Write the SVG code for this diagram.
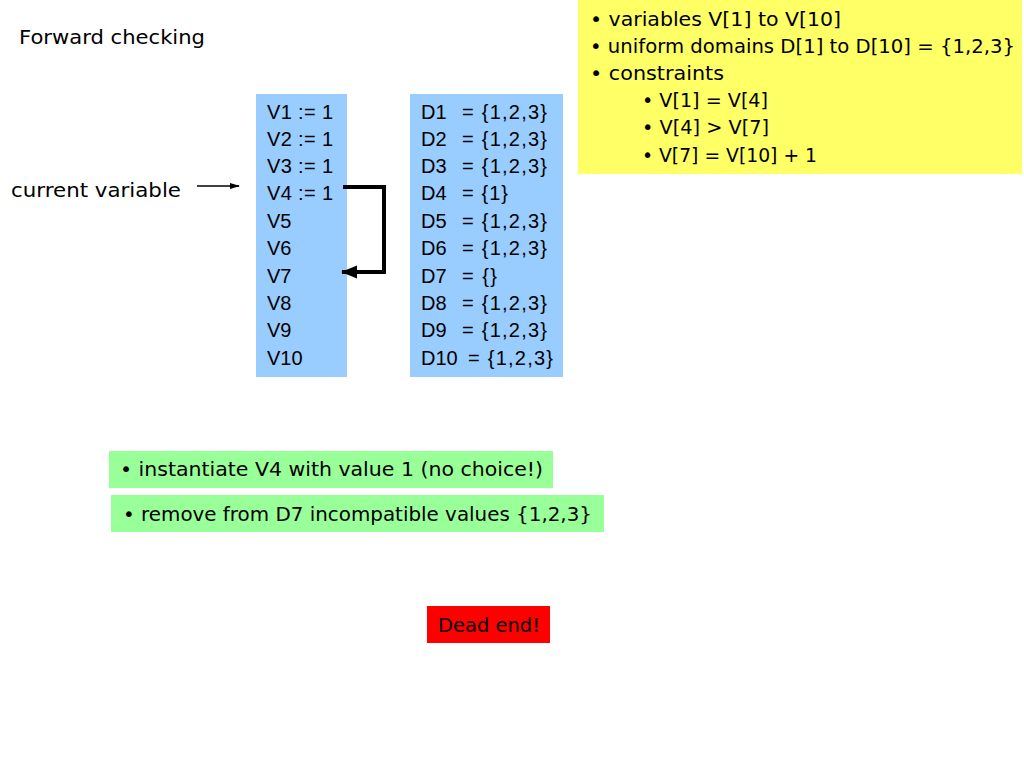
<svg xmlns="http://www.w3.org/2000/svg" width="1024" height="768" viewBox="0 0 1024 768">
<style>
text{font-family:"DejaVu Sans","Liberation Sans",sans-serif;font-size:19px;fill:#000}
text.col{font-family:"Liberation Sans","DejaVu Sans",sans-serif;font-size:20px}
.blue{fill:#99ccff}
.green{fill:#99ff99}
</style>
<defs>
<marker id="ah" markerWidth="10" markerHeight="8" refX="9" refY="4" orient="auto" markerUnits="userSpaceOnUse">
<path d="M0,1 L10,4 L0,7 Z" fill="#000"/>
</marker>
<marker id="ahb" markerWidth="16" markerHeight="14" refX="15" refY="7" orient="auto" markerUnits="userSpaceOnUse">
<path d="M0,0.5 L16,7 L0,13.5 Z" fill="#000"/>
</marker>
</defs>
<rect width="1024" height="768" fill="#fff"/>
<g id="title"><text x="19" y="44" textLength="186" lengthAdjust="spacingAndGlyphs">Forward checking</text></g>
<g id="current-label"><text x="11" y="197" textLength="170" lengthAdjust="spacingAndGlyphs">current variable</text></g>
<g id="constraints">
<rect x="578" y="0" width="444" height="174" fill="#ffff66"/>
<text x="590" y="26" textLength="251" lengthAdjust="spacingAndGlyphs">• variables V[1] to V[10]</text>
<text x="590" y="53" textLength="425" lengthAdjust="spacingAndGlyphs">• uniform domains D[1] to D[10] = {1,2,3}</text>
<text x="590" y="80" textLength="134" lengthAdjust="spacingAndGlyphs">• constraints</text>
<text x="642" y="107" textLength="126" lengthAdjust="spacingAndGlyphs">• V[1] = V[4]</text>
<text x="642" y="134" textLength="127" lengthAdjust="spacingAndGlyphs">• V[4] &gt; V[7]</text>
<text x="642" y="162" textLength="175" lengthAdjust="spacingAndGlyphs">• V[7] = V[10] + 1</text>
</g>
<g id="variables">
<rect class="blue" x="256" y="94" width="91" height="283"/>
<text class="col" x="267" y="119" textLength="66" lengthAdjust="spacing">V1 := 1</text>
<text class="col" x="267" y="146" textLength="66" lengthAdjust="spacing">V2 := 1</text>
<text class="col" x="267" y="173" textLength="66" lengthAdjust="spacing">V3 := 1</text>
<text class="col" x="267" y="200" textLength="66" lengthAdjust="spacing">V4 := 1</text>
<text class="col" x="267" y="228">V5</text>
<text class="col" x="267" y="255">V6</text>
<text class="col" x="267" y="283">V7</text>
<text class="col" x="267" y="310">V8</text>
<text class="col" x="267" y="337">V9</text>
<text class="col" x="267" y="365">V10</text>
</g>
<g id="domains">
<rect class="blue" x="410" y="94" width="153" height="283"/>
<text class="col" x="421" y="119">D1</text><text class="col" x="462" y="119" textLength="85" lengthAdjust="spacing">= {1,2,3}</text>
<text class="col" x="421" y="146">D2</text><text class="col" x="462" y="146" textLength="85" lengthAdjust="spacing">= {1,2,3}</text>
<text class="col" x="421" y="173">D3</text><text class="col" x="462" y="173" textLength="85" lengthAdjust="spacing">= {1,2,3}</text>
<text class="col" x="421" y="200">D4</text><text class="col" x="462" y="200" textLength="46" lengthAdjust="spacing">= {1}</text>
<text class="col" x="421" y="228">D5</text><text class="col" x="462" y="228" textLength="85" lengthAdjust="spacing">= {1,2,3}</text>
<text class="col" x="421" y="255">D6</text><text class="col" x="462" y="255" textLength="85" lengthAdjust="spacing">= {1,2,3}</text>
<text class="col" x="421" y="283">D7</text><text class="col" x="462" y="283" textLength="35" lengthAdjust="spacing">= {}</text>
<text class="col" x="421" y="310">D8</text><text class="col" x="462" y="310" textLength="85" lengthAdjust="spacing">= {1,2,3}</text>
<text class="col" x="421" y="337">D9</text><text class="col" x="462" y="337" textLength="85" lengthAdjust="spacing">= {1,2,3}</text>
<text class="col" x="421" y="365">D10</text><text class="col" x="468" y="365" textLength="85" lengthAdjust="spacing">= {1,2,3}</text>
</g>
<g id="step1">
<rect class="green" x="109" y="451" width="444" height="37"/>
<text x="120" y="476" textLength="423" lengthAdjust="spacingAndGlyphs">• instantiate V4 with value 1 (no choice!)</text>
</g>
<g id="step2">
<rect class="green" x="111" y="495" width="493" height="37"/>
<text x="123" y="521" textLength="469" lengthAdjust="spacingAndGlyphs">• remove from D7 incompatible values {1,2,3}</text>
</g>
<g id="deadend">
<rect x="427" y="606" width="123" height="37" fill="#ff0000"/>
<text x="438" y="632" textLength="102" lengthAdjust="spacingAndGlyphs">Dead end!</text>
</g>
<g id="connectors">
<line x1="197" y1="186" x2="239" y2="186" stroke="#000" stroke-width="1.3" marker-end="url(#ah)"/>
<path d="M343,187 H384 V272 H342" fill="none" stroke="#000" stroke-width="4" marker-end="url(#ahb)"/>
</g>
</svg>
